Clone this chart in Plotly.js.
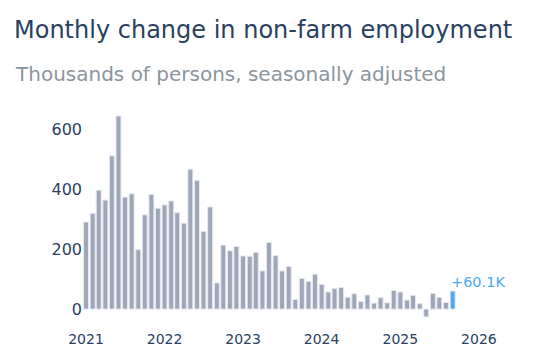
<!DOCTYPE html>
<html>
<head>
<meta charset="utf-8">
<script src="https://cdn.plot.ly/plotly-3.0.1.min.js"></script>
<style>html,body{margin:0;padding:0;background:#fff;}#chart{width:540px;height:358px;}</style>
</head>
<body>
<div id="chart"></div>
<script>
const months = [
  '2021-01-01','2021-02-01','2021-03-01','2021-04-01','2021-05-01','2021-06-01','2021-07-01','2021-08-01','2021-09-01','2021-10-01','2021-11-01','2021-12-01',
  '2022-01-01','2022-02-01','2022-03-01','2022-04-01','2022-05-01','2022-06-01','2022-07-01','2022-08-01','2022-09-01','2022-10-01','2022-11-01','2022-12-01',
  '2023-01-01','2023-02-01','2023-03-01','2023-04-01','2023-05-01','2023-06-01','2023-07-01','2023-08-01','2023-09-01','2023-10-01','2023-11-01','2023-12-01',
  '2024-01-01','2024-02-01','2024-03-01','2024-04-01','2024-05-01','2024-06-01','2024-07-01','2024-08-01','2024-09-01','2024-10-01','2024-11-01','2024-12-01',
  '2025-01-01','2025-02-01','2025-03-01','2025-04-01','2025-05-01','2025-06-01','2025-07-01','2025-08-01','2025-09-01'
];
const changes = [
  290, 319, 396, 363, 510, 643, 373, 384, 198, 314, 382, 336,
  347, 360, 321, 286, 466, 429, 259, 340, 87, 213, 194, 209,
  177, 176, 189, 127, 222, 178, 127, 142, 32, 102, 92, 116,
  82, 57, 69, 72, 39, 51, 25, 47, 20, 38, 21, 62,
  57, 30, 46, 18, -26, 52, 39, 22, 60.1
];
const latestLabel = '+60.1K';
const tickYears = ['2021-01-01','2022-01-01','2023-01-01','2024-01-01','2025-01-01','2026-01-01'];
const tickText = ['2021','2022','2023','2024','2025','2026'];
const yTicks = [0, 200, 400, 600];

const GRAY = '#9ea6b7', BLUE = '#4ea9ef';
const colors = changes.map((v, i) => i === changes.length - 1 ? BLUE : GRAY);
const FONT = 'DejaVu Sans, Verdana, sans-serif';

const trace = {
  type: 'bar', x: months, y: changes,
  marker: {color: colors, line: {color: '#e4e8ef', width: 1}},
  hoverinfo: 'x+y'
};

const layout = {
  width: 540, height: 358,
  margin: {l: 83, r: 20, t: 110, b: 36},
  paper_bgcolor: '#fff', plot_bgcolor: '#fff',
  font: {family: FONT, color: '#2a3f5f'},
  showlegend: false,
  bargap: 0.18,
  title: {
    text: 'Monthly change in non-farm employment',
    font: {family: FONT, size: 24, color: '#2a3f5f'},
    x: 14/540, xanchor: 'left', xref: 'container',
    y: 1 - 30/358, yanchor: 'middle', yref: 'container'
  },
  xaxis: {
    type: 'date',
    range: ['2020-12-18', '2026-07-11'],
    tickvals: tickYears, ticktext: tickText,
    showgrid: false, zeroline: false, showline: false, ticks: '',
    ticklabelstandoff: 7,
    tickfont: {family: FONT, size: 14, color: '#2a3f5f'}
  },
  yaxis: {
    range: [-43, 663],
    tickvals: yTicks,
    showgrid: false, zeroline: false, showline: false, ticks: '',
    tickfont: {family: FONT, size: 16, color: '#2a3f5f'}
  },
  annotations: [
    {
      text: 'Thousands of persons, seasonally adjusted',
      xref: 'paper', yref: 'paper',
      x: (13 - 83) / 437, xanchor: 'left',
      y: (322 - 74) / 212, yanchor: 'middle',
      showarrow: false,
      font: {family: FONT, size: 20, color: '#8c959e'}
    },
    {
      text: latestLabel,
      x: months[months.length - 1], y: changes[changes.length - 1],
      xanchor: 'left', yanchor: 'bottom', showarrow: false,
      xshift: -4, yshift: -1,
      font: {family: FONT, size: 14.5, color: BLUE}
    }
  ]
};

Plotly.newPlot('chart', [trace], layout, {displayModeBar: false, staticPlot: true});
</script>
</body>
</html>
